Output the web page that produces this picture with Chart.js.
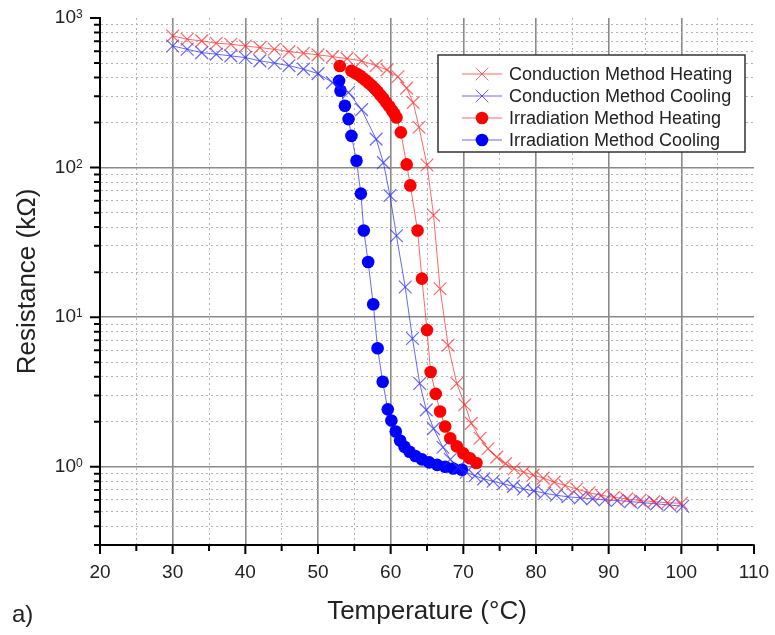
<!DOCTYPE html>
<html>
<head>
<meta charset="utf-8">
<script src="https://cdn.jsdelivr.net/npm/chart.js@4.4.0/dist/chart.umd.min.js"></script>
<style>
html,body{margin:0;padding:0;background:#fff;}
</style>
</head>
<body>
<canvas id="chart" width="775" height="635"></canvas>
<script>
// conduction method, heating (red crosses)
const condHeatT = [30,32,34,36,38,40,42,44,46,48,50,52,54,56,58,59.5,61,62.2,63.1,63.9,65,65.9,66.8,67.9,69.1,70.2,71.1,72.3,73.4,74.6,75.8,77,78.3,79.6,81,82.5,84,85.6,87.3,89,90.7,92.5,94.3,96.2,98.1,100];
const condHeatR = [759,721,703,678,668,650,634,618,596,582,567,552,535,517,480,450,405,340,272,186,104,48,15.5,6.5,3.6,2.6,1.95,1.55,1.32,1.16,1.05,0.97,0.92,0.88,0.84,0.79,0.75,0.71,0.67,0.645,0.625,0.61,0.595,0.585,0.575,0.57];
// conduction method, cooling (blue crosses)
const condCoolT = [30,32,34,36,38,40,42,44,46,48,50,52,54.2,56,58,59,59.9,60.8,62,63,64,64.9,65.9,67.2,68.2,69.3,70.4,71.6,72.8,74.1,75.5,76.9,78.3,79.7,81.2,82.8,84.4,86.1,87.8,89.5,91.2,93,94.8,96.6,98.4,100.2];
const condCoolR = [650,618,587,573,558,544,517,500,480,455,425,370,318,244,155,108,65,35,15.9,7.2,3.6,2.4,1.8,1.35,1.12,0.99,0.92,0.87,0.83,0.8,0.77,0.74,0.71,0.69,0.665,0.645,0.63,0.62,0.61,0.6,0.595,0.585,0.575,0.565,0.555,0.545];
// irradiation method, heating (red dots)
const irrHeatT = [53,54.6,55,55.4,55.8,56.2,56.6,57,57.4,57.8,58.2,58.6,59,59.4,59.8,60.2,60.5,60.8,61.4,62.2,62.7,63.7,64.3,65,65.5,66.2,66.8,67.5,68.2,69.1,70,70.9,71.8];
const irrHeatR = [478,443,432,422,411,396,382,367,353,338,322,305,289,272,257,241,229,216,172,105,76,38,18.1,8.2,4.3,3.07,2.34,1.86,1.55,1.37,1.23,1.14,1.06];
// irradiation method, cooling (blue dots)
const irrCoolT = [52.9,53.1,53.7,54.2,54.6,55.3,55.9,56.3,56.9,57.6,58.2,58.9,59.6,60.1,60.7,61.3,61.9,62.6,63.4,64.3,65.3,66.4,67.5,68.6,69.8];
const irrCoolR = [380,326,259,211,163,111,67,38,23.4,12.2,6.2,3.7,2.42,2.04,1.72,1.5,1.36,1.26,1.18,1.12,1.07,1.03,1.0,0.975,0.955];

const xTickVals = [20,25,30,35,40,45,50,55,60,65,70,75,80,85,90,95,100,105,110];
const yTickVals = [0.3,0.4,0.5,0.6,0.7,0.8,0.9,1,2,3,4,5,6,7,8,9,10,20,30,40,50,60,70,80,90,100,200,300,400,500,600,700,800,900,1000];
const yDecades = [1,10,100,1000];
const yExps = ["0","1","2","3"];

const FONT = "'Liberation Sans', Arial, sans-serif";

function pts(t, r){ return t.map((v,i)=>({x:v, y:r[i]})); }
function isDecade(v){ return yDecades.includes(v); }

const tickPlugin = {
  id: "ticksAndLabels",
  afterDraw(chart){
    const {ctx, scales:{x, y}} = chart;
    ctx.save();
    ctx.strokeStyle = "#000";
    ctx.lineWidth = 2;
    ctx.beginPath();
    x.ticks.forEach(t=>{
      const px = x.getPixelForValue(t.value);
      const len = t.value % 10 === 0 ? 9 : 6;
      ctx.moveTo(px, x.top); ctx.lineTo(px, x.top + len);
    });
    y.ticks.forEach(t=>{
      const py = y.getPixelForValue(t.value);
      const len = isDecade(t.value) ? 10 : 6;
      ctx.moveTo(y.right - len, py); ctx.lineTo(y.right, py);
    });
    ctx.stroke();
    // decade labels 10^n
    ctx.fillStyle = "#222";
    yDecades.forEach((v,i)=>{
      const py = y.getPixelForValue(v);
      ctx.font = "19px " + FONT;
      ctx.textAlign = "right";
      ctx.textBaseline = "middle";
      ctx.fillText("10", 76, py);
      ctx.font = "12px " + FONT;
      ctx.textAlign = "left";
      ctx.textBaseline = "alphabetic";
      ctx.fillText(yExps[i], 76, py);
    });
    ctx.font = "24px " + FONT;
    ctx.textAlign = "left";
    ctx.fillText("a)", 12, 622);
    ctx.restore();
  }
};

const legendPlugin = {
  id: "boxLegend",
  afterDatasetsDraw(chart){
    const ctx = chart.ctx;
    const x0 = 438, y0 = 55, w = 307, h = 97;
    ctx.save();
    ctx.fillStyle = "#fff";
    ctx.fillRect(x0, y0, w, h);
    ctx.strokeStyle = "#333";
    ctx.lineWidth = 1.5;
    ctx.strokeRect(x0, y0, w, h);
    chart.data.datasets.forEach((ds,i)=>{
      const yy = 74 + i*22;
      ctx.strokeStyle = ds.borderColor;
      ctx.lineWidth = 1;
      ctx.beginPath(); ctx.moveTo(462, yy); ctx.lineTo(502, yy); ctx.stroke();
      ctx.strokeStyle = ds.pointBorderColor;
      ctx.fillStyle = ds.pointBackgroundColor;
      Chart.helpers.drawPoint(ctx, {pointStyle: ds.pointStyle, radius: ds.pointRadius, borderWidth: ds.pointBorderWidth, rotation: 0}, 482, yy);
      ctx.fillStyle = "#222";
      ctx.font = "18px " + FONT;
      ctx.textAlign = "left";
      ctx.textBaseline = "middle";
      ctx.fillText(ds.label, 509, yy + 1);
    });
    ctx.restore();
  }
};

const red = "rgba(255,40,40,0.7)";
const blue = "rgba(40,40,255,0.7)";

new Chart(document.getElementById("chart"), {
  type: "scatter",
  data: {
    datasets: [
      {label:"Conduction Method Heating", data:pts(condHeatT,condHeatR), showLine:true,
       borderColor:red, borderWidth:1, pointStyle:"crossRot", pointRadius:9,
       pointBorderColor:red, pointBackgroundColor:red, pointBorderWidth:1.2},
      {label:"Conduction Method Cooling", data:pts(condCoolT,condCoolR), showLine:true,
       borderColor:blue, borderWidth:1, pointStyle:"crossRot", pointRadius:9,
       pointBorderColor:blue, pointBackgroundColor:blue, pointBorderWidth:1.2},
      {label:"Irradiation Method Heating", data:pts(irrHeatT,irrHeatR), showLine:true,
       borderColor:red, borderWidth:1, pointStyle:"circle", pointRadius:6.3,
       pointBorderColor:"#ff0000", pointBackgroundColor:"#ff0000", pointBorderWidth:0},
      {label:"Irradiation Method Cooling", data:pts(irrCoolT,irrCoolR), showLine:true,
       borderColor:blue, borderWidth:1, pointStyle:"circle", pointRadius:6.3,
       pointBorderColor:"#0000ff", pointBackgroundColor:"#0000ff", pointBorderWidth:0}
    ]
  },
  options: {
    responsive: false,
    animation: false,
    layout: {padding: {top:18, right:21, left:0, bottom:0}},
    plugins: {legend:{display:false}, tooltip:{enabled:false}},
    scales: {
      x: {
        type: "linear", min: 20, max: 110,
        afterBuildTicks: s => { s.ticks = xTickVals.map(v=>({value:v})); },
        afterFit: s => { s.height = 90; s.paddingRight = 0; s.paddingLeft = 0; },
        grid: {
          drawTicks: false,
          color: c => (c.tick && (c.tick.value === 20 || c.tick.value === 110)) ? "rgba(0,0,0,0)" :
                      (c.tick && c.tick.value % 10 === 0 ? "#8a8a8a" : "#b4b4b4"),
          lineWidth: c => (c.tick && c.tick.value % 10 === 0) ? 1.6 : 1
        },
        border: {display:true, color:"#000", width:2,
                 dash: c => (c.tick && c.tick.value % 10 !== 0) ? [2,3] : []},
        ticks: {
          color: "#222", padding: 16, font: {family: FONT, size: 19},
          maxRotation: 0, minRotation: 0, autoSkip: false,
          callback: v => v % 10 === 0 ? String(v) : ""
        },
        title: {display:true, text:"Temperature (°C)", color:"#222",
                font:{family:FONT, size:26}, padding:{top:0, bottom:8}}
      },
      y: {
        type: "logarithmic", min: 0.3, max: 1000,
        afterBuildTicks: s => { s.ticks = yTickVals.map(v=>({value:v})); },
        afterFit: s => { s.width = 100; },
        grid: {
          drawTicks: false,
          color: c => (c.tick && (c.tick.value === 0.3 || c.tick.value === 1000)) ? "rgba(0,0,0,0)" :
                      (c.tick && isDecade(c.tick.value) ? "#8a8a8a" : "#b4b4b4"),
          lineWidth: c => (c.tick && isDecade(c.tick.value)) ? 1.6 : 1
        },
        border: {display:true, color:"#000", width:2,
                 dash: c => (c.tick && !isDecade(c.tick.value)) ? [2,3] : []},
        ticks: {display:false},
        title: {display:true, text:"Resistance (kΩ)", color:"#222",
                font:{family:FONT, size:26}, padding:{top:12, bottom:0}}
      }
    }
  },
  plugins: [tickPlugin, legendPlugin]
});
</script>
</body>
</html>
